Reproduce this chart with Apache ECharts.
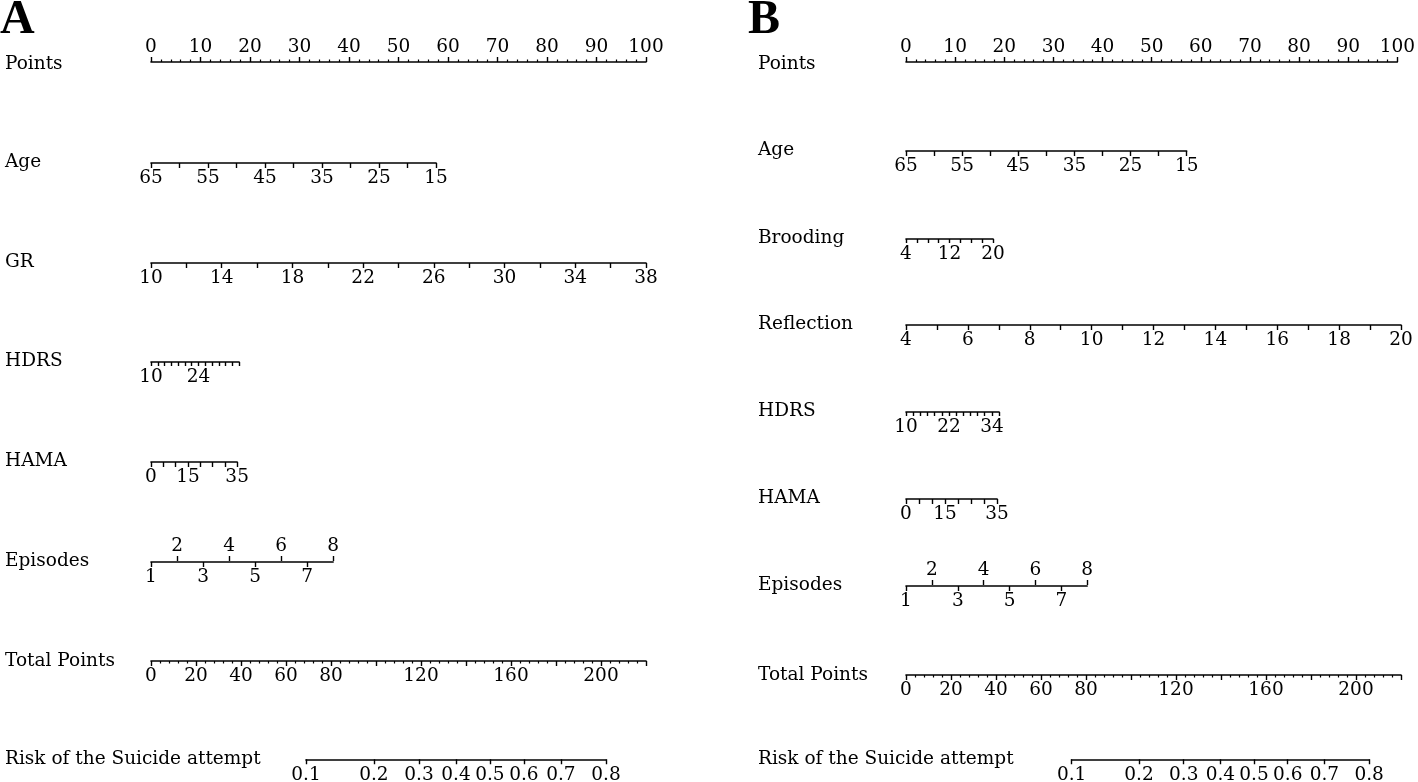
<!DOCTYPE html>
<html><head><meta charset="utf-8">
<script src="https://cdn.jsdelivr.net/npm/echarts@6/dist/echarts.min.js"></script>
<style>html,body{margin:0;padding:0;background:#fff}#c{width:1418px;height:782px}</style>
</head><body><div id="c"></div><script>
// ---------- data ----------
const pointsLabels = [0,10,20,30,40,50,60,70,80,90,100];
const totalPointsLabels = [0,20,40,60,80,120,160,200];
const totalPointsMax = 220;
const riskLabels = [0.1,0.2,0.3,0.4,0.5,0.6,0.7,0.8];
const episodesRange = [1,8];
const episodesOdd = [1,3,5,7];
const episodesEven = [2,4,6,8];

// Panel A predictors (value at 0 points, value at max points, max points, tick step)
const namesA = ['Age','GR','HDRS','HAMA'];
const loA = [65,10,10,0];
const hiA = [15,38,36,35];
const maxPtsA = [57.6,100,17.8,17.4];
const stepA = [5,2,2,5];
const ageLabelsA = [65,55,45,35,25,15];
const grLabelsA = [10,14,18,22,26,30,34,38];
const hdrsLabelsA = [10,24];
const hamaLabelsA = [0,15,35];
const episodesMaxPtsA = 36.8;
const riskInterceptA = -4.049, riskSlopeA = 0.02688;

// Panel B predictors
const namesB = ['Age','Brooding','Reflection','HDRS','HAMA'];
const loB = [65,4,4,10,0];
const hiB = [15,20,20,36,35];
const maxPtsB = [56.7,17.6,100,18.8,18.4];
const stepB = [5,2,1,2,5];
const ageLabelsB = [65,55,45,35,25,15];
const broodingLabelsB = [4,12,20];
const reflectionLabelsB = [4,6,8,10,12,14,16,18,20];
const hdrsLabelsB = [10,22,34];
const hamaLabelsB = [0,15,35];
const episodesMaxPtsB = 36.6;
const riskInterceptB = -4.192, riskSlopeB = 0.0271;

// ---------- layout ----------
const FONT = 'DejaVu Serif';
const FS = 18.5;
const INK = '#000';
const panels = [
  {letter:'A', letterX:0, nameX:5, x0:151, span:495,
   names:namesA, lo:loA, hi:hiA, maxPts:maxPtsA, step:stepA,
   labels:[ageLabelsA,grLabelsA,hdrsLabelsA,hamaLabelsA],
   epMax:episodesMaxPtsA, ra:riskInterceptA, rb:riskSlopeA,
   pointsY:62, rowY:[163,263,362,462], epY:562, totalY:661, riskY:760},
  {letter:'B', letterX:748, nameX:758, x0:906, span:495,
   names:namesB, lo:loB, hi:hiB, maxPts:maxPtsB, step:stepB,
   labels:[ageLabelsB,broodingLabelsB,reflectionLabelsB,hdrsLabelsB,hamaLabelsB],
   epMax:episodesMaxPtsB, ra:riskInterceptB, rb:riskSlopeB,
   pointsY:62, rowY:[151,239,325,412,499], epY:586, totalY:675, riskY:760}
];

const grids=[], xAxes=[], yAxes=[], graphics=[];
const logit = p => Math.log(p/(1-p));

function addGrid(left,width,top){
  const gi = grids.length;
  grids.push({left:left, width:width, top:top, height:1, containLabel:false, show:false});
  yAxes.push({gridIndex:gi, type:'value', show:false, min:0, max:1});
  return gi;
}
function axis(gi, pos, min, max, interval, labels, extra){
  const a = {
    gridIndex:gi, type:'value', position:pos, min:min, max:max, interval:interval,
    axisLine:{show:true, onZero:false, lineStyle:{color:INK, width:1.6}},
    axisTick:{show:true, length:5, inside:false, lineStyle:{color:INK, width:1.4}},
    axisLabel:{show:true, customValues:labels, margin:6, color:INK,
      fontFamily:FONT, fontSize:FS, hideOverlap:false},
    splitLine:{show:false}, minorTick:{show:false}, minorSplitLine:{show:false}
  };
  if (extra) extra(a);
  xAxes.push(a);
}
function name(x,y,text){
  graphics.push({type:'text', x:x, y:y, silent:true,
    style:{text:text, font:FS+'px "'+FONT+'"', fill:INK, verticalAlign:'middle', align:'left'}});
}

panels.forEach(P=>{
  const sc = P.span/100;             // px per point
  const tsc = P.span/totalPointsMax; // px per total point
  graphics.push({type:'text', x:P.letterX, y:21, silent:true,
    style:{text:P.letter, font:'bold 48px "Liberation Serif"', fill:INK, verticalAlign:'middle'}});

  // Points
  let gi = addGrid(P.x0, P.span, P.pointsY);
  axis(gi,'top',0,100,10,pointsLabels,a=>{
    a.axisLabel.margin = 5;
    a.minorTick={show:true, splitNumber:5, length:2.5, lineStyle:{color:INK,width:1.2}};
  });
  name(P.nameX, P.pointsY+2, 'Points');

  // predictors
  P.names.forEach((nm,i)=>{
    const lo=P.lo[i], hi=P.hi[i];
    const g = addGrid(P.x0, P.maxPts[i]*sc, P.rowY[i]-1);
    axis(g,'bottom',Math.min(lo,hi),Math.max(lo,hi),P.step[i],P.labels[i],a=>{
      a.inverse = lo>hi;
      if (P.step[i] <= 2 && P.maxPts[i] < 30) a.axisTick.length = 4;
    });
    name(P.nameX, P.rowY[i]-1, nm);
  });

  // Episodes (odd labels below, even labels above)
  const ge = addGrid(P.x0, P.epMax*sc, P.epY-1);
  axis(ge,'bottom',episodesRange[0],episodesRange[1],1,episodesOdd,a=>{
    a.axisTick.customValues = episodesOdd;
  });
  axis(ge,'top',episodesRange[0],episodesRange[1],1,episodesEven,a=>{
    a.axisLine.show = false;
    a.axisLabel.margin = 5;
    a.axisTick.customValues = episodesEven;
  });
  name(P.nameX, P.epY-1, 'Episodes');

  // Total points
  const gt = addGrid(P.x0, P.span, P.totalY-1);
  axis(gt,'bottom',0,totalPointsMax,20,totalPointsLabels,a=>{
    a.minorTick={show:true, splitNumber:5, length:2.5, lineStyle:{color:INK,width:1.2}};
  });
  name(P.nameX, P.totalY, 'Total Points');

  // Risk (logit scale mapped from total points)
  const tp = p => (logit(p)-P.ra)/P.rb;
  const rl = logit(riskLabels[0]), rh = logit(riskLabels[riskLabels.length-1]);
  const gr = addGrid(P.x0 + tp(riskLabels[0])*tsc, (tp(riskLabels[riskLabels.length-1])-tp(riskLabels[0]))*tsc, P.riskY-1);
  const lv = riskLabels.map(logit);
  axis(gr,'bottom',rl,rh,null,lv,a=>{
    delete a.interval;
    a.axisTick.customValues = lv;
    a.axisLabel.formatter = v=>{
      const k = lv.findIndex(x=>Math.abs(x-v)<1e-6);
      return k>=0 ? String(riskLabels[k]) : '';
    };
  });
  name(P.nameX, P.riskY-1, 'Risk of the Suicide attempt');
});

const chart = echarts.init(document.getElementById('c'), null, {renderer:'canvas'});
chart.setOption({
  animation:false,
  backgroundColor:'#fff',
  grid:grids, xAxis:xAxes, yAxis:yAxes,
  graphic:graphics,
  series:[]
});
</script></body></html>
